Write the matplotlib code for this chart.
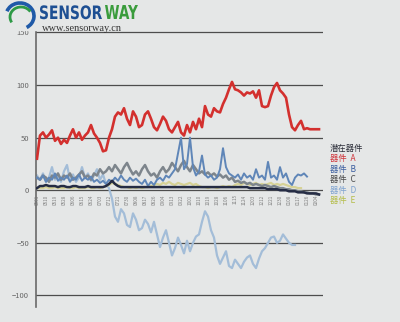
import matplotlib
matplotlib.use("Agg")
import matplotlib.pyplot as plt
from matplotlib.patches import Arc, PathPatch
from matplotlib.textpath import TextPath
from matplotlib.font_manager import FontProperties
from matplotlib.transforms import Affine2D
import numpy as np
import pandas as pd

plt.rcParams['font.family'] = ['Noto Sans CJK SC', 'DejaVu Sans']

# 每三天一个采样点
device_a = [30, 52, 55, 50, 53, 57, 47, 50, 44, 48, 45, 52, 58, 50, 55, 48, 52, 55, 62, 54,
            50, 45, 37, 38, 50, 58, 70, 74, 72, 78, 68, 62, 75, 70, 60, 62, 72, 75, 68, 60,
            57, 63, 70, 66, 58, 55, 60, 65, 55, 52, 62, 55, 65, 58, 68, 60, 80, 72, 70, 78,
            75, 74, 82, 88, 96, 103, 96, 95, 93, 90, 93, 92, 94, 88, 95, 80, 79, 80, 90, 98,
            102, 95, 92, 88, 72, 60, 57, 62, 66, 58, 59, 58, 58, 58, 58]
device_b = [12, 10, 14, 8, 12, 10, 16, 9, 12, 10, 14, 8, 12, 10, 15, 9, 12, 10, 13, 8,
            10, 7, 9, 6, 10, 8, 12, 9, 14, 10, 8, 12, 9, 11, 8, 6, 10, 4, 8, 5,
            10, 12, 9, 14, 12, 16, 20, 35, 50, 20, 25, 50, 22, 14, 18, 33, 15, 12, 14, 10,
            12, 20, 40, 22, 16, 14, 12, 15, 10, 16, 12, 14, 10, 20, 12, 14, 10, 27, 12, 14,
            10, 22, 12, 16, 8, 5, 12, 15, 14, 16, 13, np.nan, np.nan, np.nan, np.nan]
device_c = [12, 10, 14, 12, 8, 14, 12, 16, 10, 14, 12, 16, 10, 12, 15, 18, 12, 14, 10, 16,
            14, 20, 16, 18, 22, 18, 24, 20, 16, 22, 26, 20, 15, 18, 14, 20, 24, 18, 14, 16,
            12, 18, 22, 17, 20, 26, 22, 18, 24, 28, 22, 18, 24, 20, 16, 18, 15, 17, 14, 16,
            13, 15, 12, 14, 10, 12, 8, 9, 7, 8, 6, 7, 5, 6, 5, 4, 5, 4, 3, 4,
            3, 2, 2, 1, 1, 0, 0, -1, -1, -2, -2, -3, -3, -4, -4]
device_d = [14, 10, 16, 8, 12, 22, 10, 14, 8, 18, 24, 10, 15, 8, 12, 22, 12, 16, 9, 14,
            20, 10, 15, 6, 2, -8, -25, -30, -18, -22, -33, -35, -22, -28, -38, -36, -28, -32, -40, -30,
            -42, -54, -45, -38, -50, -62, -55, -45, -52, -60, -48, -58, -50, -44, -42, -30, -20, -25, -38, -45,
            -62, -70, -64, -58, -72, -74, -66, -70, -74, -68, -64, -62, -70, -74, -65, -58, -55, -50, -45, -44,
            -50, -48, -42, -46, -50, -52, -52, np.nan, np.nan, np.nan, np.nan, np.nan, np.nan, np.nan, np.nan]
device_e = [2, 2, 2, 3, 2, 2, 3, 2, 2, 2, 3, 2, 2, 3, 2, 2, 2, 3, 2, 2,
            3, 2, 3, 4, 5, 7, 6, 5, 4, 3, 3, 2, 3, 2, 3, 2, 3, 3, 4, 5,
            6, 5, 7, 6, 8, 6, 5, 7, 6, 5, 6, 7, 5, 6, 4, 3, 3, 2, 3, 3,
            2, 3, 4, 3, 4, 3, 5, 6, 5, 7, 6, 5, 6, 7, 5, 6, 5, 6, 7, 5,
            6, 5, 6, 5, 4, 3, 3, 2, 2, np.nan, np.nan, np.nan, np.nan, np.nan, np.nan]
potential = [2, 4, 4, 5, 4, 4, 4, 3, 4, 4, 3, 3, 4, 4, 3, 3, 3, 4, 3, 3,
             3, 3, 3, 4, 6, 9, 6, 4, 3, 3, 3, 3, 3, 3, 3, 3, 3, 3, 3, 3,
             3, 3, 3, 3, 3, 3, 3, 3, 3, 3, 3, 3, 3, 3, 3, 3, 3, 3, 3, 3,
             3, 3, 3, 3, 3, 3, 3, 3, 3, 3, 3, 2, 2, 2, 2, 2, 2, 1, 1, 1,
             1, 0, 0, 0, -1, -1, -1, -2, -2, -2, -3, -3, -3, -3, -4]

days = np.arange(len(device_a))
tick_idx = days[::3]
tick_labels = pd.date_range('2010-05-01', periods=len(tick_idx), freq='9D').strftime('%m%d').tolist()

legend_items = ['潜在器件', '器件  A', '器件  B', '器件  C', '器件  D', '器件  E']
legend_colors = ['#2c2f3a', '#d0343a', '#3c5fa0', '#4a4a4a', '#7fa3d0', '#b5bd4a']

bg = '#e5e7e7'
fig = plt.figure(figsize=(4, 3.22), dpi=100, facecolor=bg)
ax = fig.add_axes([0.09, 0.0466, 0.7175, 0.8754], facecolor=bg)

for v in [-100, -50, 0, 50, 100, 150]:
    ax.axhline(v, color='#4d4d4d', lw=0.9, zorder=1)

ax.plot(days, device_d, color='#a3bdd8', lw=1.6, zorder=2)
ax.plot(days, device_e, color='#d6d296', lw=1.6, zorder=2)
ax.plot(days, device_c, color='#7d858c', lw=1.8, zorder=3)
ax.plot(days, device_b, color='#5f86b8', lw=1.4, zorder=4)
ax.plot(days, potential, color='#252c44', lw=1.8, zorder=5)
ax.plot(days, device_a, color='#d3302e', lw=1.9, zorder=6)

ax.set_xlim(-0.33, 95.33)
ax.set_ylim(-111, 157)
ax.set_yticks([-100, -50, 0, 50, 100, 150])
ax.tick_params(axis='y', length=0, pad=5, labelsize=5.5, labelcolor='#666666')

ax.spines['bottom'].set_position(('data', 0))
ax.spines['bottom'].set_visible(False)
ax.spines['top'].set_visible(False)
ax.spines['right'].set_visible(False)
ax.spines['left'].set_color('#6a6a6a')
ax.spines['left'].set_linewidth(1.2)
ax.set_xticks(tick_idx)
ax.set_xticklabels(tick_labels, rotation=90, fontsize=3.3, color='#7e7e7e')
ax.tick_params(axis='x', length=0, pad=3)

# 图例
for i, (name, c) in enumerate(zip(legend_items, legend_colors)):
    fig.text(330 / 400, 1 - (148 + i * 10.5) / 322, name, color=c, fontsize=6,
             va='center', ha='left')

# 标志
logo = fig.add_axes([0, 0, 1, 1], facecolor='none')
logo.set_xlim(0, 400)
logo.set_ylim(322, 0)
logo.axis('off')
logo.add_patch(plt.Rectangle((2, 2), 36, 28, color=bg, zorder=1))
logo.add_patch(Arc((20, 16), 28, 26, theta1=200, theta2=60, color='#1f5aa8', lw=2.6, zorder=2))
logo.add_patch(Arc((21, 17), 22, 20, theta1=150, theta2=330, color='#2e9a46', lw=2.0, zorder=2))


def squeezed_word(word, x0, x1, baseline, cap, color):
    """横向压缩的粗体字, 宽度从 x0 到 x1"""
    fp = FontProperties(family='DejaVu Sans', weight='bold')
    tp = TextPath((0, 0), word, size=1, prop=fp)
    ext = tp.get_extents()
    sx = (x1 - x0) / ext.width
    sy = cap / ext.height
    tr = Affine2D().translate(-ext.x0, 0).scale(sx, -sy).translate(x0, baseline)
    logo.add_patch(PathPatch(tr.transform_path(tp), color=color, lw=0, zorder=3))


squeezed_word('SENSOR', 40, 102, 19, 14, '#1d4f93')
squeezed_word('WAY', 105, 138, 19, 14, '#3a9c3c')
logo.text(42, 31, 'www.sensorway.cn', color='#333333', fontsize=7.5,
          family=['Liberation Serif', 'DejaVu Serif'], ha='left', va='baseline')

fig.savefig('out.png', dpi=100, facecolor=bg)
